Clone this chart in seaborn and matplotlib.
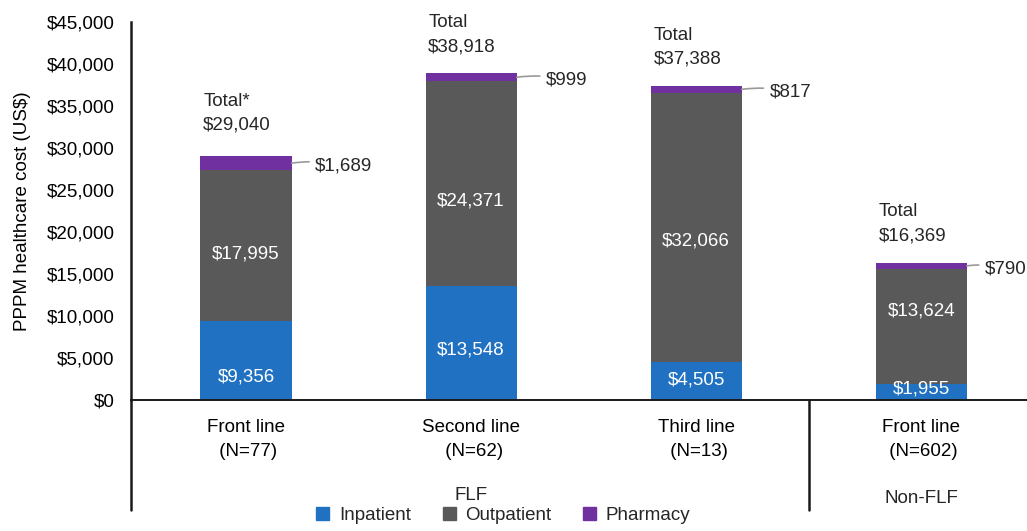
"""
PPPM healthcare cost by line of therapy - stacked bars
"""

import matplotlib
matplotlib.use("Agg")
import matplotlib.pyplot as plt
import matplotlib.ticker as mtick
import matplotlib.transforms as mtrans
from matplotlib.patches import Patch
import numpy as np
import pandas as pd
import seaborn as sns

# Data
lines      = ["Front line", "Second line", "Third line", "Front line"]
n_patients = [77, 62, 13, 602]
groups     = ["FLF", "Non-FLF"]
inpatient  = [9356, 13548, 4505, 1955]
outpatient = [17995, 24371, 32066, 13624]
pharmacy   = [1689, 999, 817, 790]
totals     = [29040, 38918, 37388, 16369]
total_tags = ["Total*", "Total", "Total", "Total"]

# Colours / layout
BLUE   = "#2071C1"
GREY   = "#595959"
PURPLE = "#7030A0"
BAR_W  = 0.405
# small nudges (points) for the in-bar labels
IN_NUDGE  = [-12, -5, 1, 2]
OUT_NUDGE = [-6, -12, -10, 11]
CALLOUT_DX = [17, 21, 20, 13]
TOTAL_DY   = [16, 13, 13, 13]

sns.set_theme(style="white")
plt.rcParams["font.family"] = ["Liberation Sans", "DejaVu Sans"]
FS = 13.5

df = pd.DataFrame({
    "cat": [f"c{i}" for i in range(len(lines))],
    "inp": inpatient,
    "out": outpatient,
    "pha": pharmacy,
})
df["inp_out"] = df["inp"] + df["out"]
df["total"] = df["inp_out"] + df["pha"]

fig = plt.figure(figsize=(10.27, 5.31), dpi=100)
ax = fig.add_axes([131 / 1027, 131 / 531, 1 - 131 / 1027, 378 / 531])

# stacked by overlaying cumulative bars
sns.barplot(data=df, x="cat", y="total", color=PURPLE, saturation=1,
            width=BAR_W, linewidth=0, ax=ax)
sns.barplot(data=df, x="cat", y="inp_out", color=GREY, saturation=1,
            width=BAR_W, linewidth=0, ax=ax)
sns.barplot(data=df, x="cat", y="inp", color=BLUE, saturation=1,
            width=BAR_W, linewidth=0, ax=ax)

ax.set_ylim(0, 45000)
ax.set_xlim(-0.511, 3.47)
ax.yaxis.set_major_locator(mtick.MultipleLocator(5000))
ax.yaxis.set_major_formatter(mtick.StrMethodFormatter("${x:,.0f}"))
ax.set_ylabel("PPPM healthcare cost (US$)", fontsize=FS, color="black",
              labelpad=11)
ax.set_xlabel("")
ax.set_xticks(range(len(lines)))
ax.set_xticklabels([f"{l}\n (N={n})" for l, n in zip(lines, n_patients)],
                   fontsize=FS, linespacing=1.5)
ax.tick_params(axis="x", length=0, pad=14, colors="black")
ax.tick_params(axis="y", length=0, pad=12, labelsize=FS, colors="black")

for side in ["top", "right"]:
    ax.spines[side].set_visible(False)
ax.spines["left"].set_linewidth(1.8)
ax.spines["left"].set_color("#1a1a1a")
ax.spines["bottom"].set_linewidth(1.4)
ax.spines["bottom"].set_color("#1a1a1a")

# extension of left axis and FLF / Non-FLF separator
blend = mtrans.blended_transform_factory(ax.transData, ax.transAxes)
ax.plot([-0.511, -0.511], [0, -0.291], transform=blend, clip_on=False,
        color="#1a1a1a", lw=1.8)
ax.plot([2.5, 2.5], [0, -0.291], transform=blend, clip_on=False,
        color="#1a1a1a", lw=1.8)
ax.text(1, -0.252, groups[0], transform=blend, ha="center", va="center",
        fontsize=FS)
ax.text(3, -0.26, groups[1], transform=blend, ha="center", va="center",
        fontsize=FS)

# labels
for i in range(len(lines)):
    ax.annotate(f"${inpatient[i]:,}", (i, inpatient[i] / 2),
                xytext=(0, IN_NUDGE[i]), textcoords="offset points",
                ha="center", va="center", color="white", fontsize=FS)
    ax.annotate(f"${outpatient[i]:,}", (i, inpatient[i] + outpatient[i] / 2),
                xytext=(0, OUT_NUDGE[i]), textcoords="offset points",
                ha="center", va="center", color="white", fontsize=FS)
    ax.annotate(f"${pharmacy[i]:,}",
                (i + BAR_W / 2, totals[i] - pharmacy[i] / 2),
                xytext=(CALLOUT_DX[i], -2), textcoords="offset points",
                ha="left", va="center", fontsize=FS, annotation_clip=False,
                arrowprops=dict(arrowstyle="-", color="#999999", lw=1.2,
                                shrinkA=2, shrinkB=0,
                                connectionstyle="arc3,rad=0.1"))
    ax.annotate(f"{total_tags[i]}\n${totals[i]:,}",
                (i - BAR_W / 2, totals[i]),
                xytext=(2, TOTAL_DY[i]), textcoords="offset points",
                ha="left", va="bottom", fontsize=FS, linespacing=1.55)

handles = [Patch(color=BLUE, label="Inpatient"),
           Patch(color=GREY, label="Outpatient"),
           Patch(color=PURPLE, label="Pharmacy")]
fig.legend(handles=handles, loc="lower center", ncol=3, frameon=False,
           bbox_to_anchor=(0.49, -0.018), fontsize=FS, handlelength=0.7,
           handleheight=0.7, handletextpad=0.5, columnspacing=1.7)

fig.savefig("out.png", dpi=100)
